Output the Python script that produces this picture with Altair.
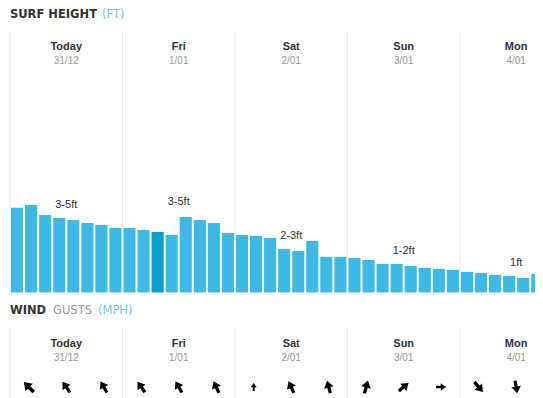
import altair as alt
import pandas as pd

days = ["Today", "Fri", "Sat", "Sun", "Mon"]
dates = ["31/12", "1/01", "2/01", "3/01", "4/01"]
ranges = ["3-5ft", "3-5ft", "2-3ft", "1-2ft", "1ft"]
surf_ft = [
    4.24, 4.38, 3.88, 3.73, 3.63, 3.48, 3.38, 3.23,
    3.23, 3.13, 3.03, 2.88, 3.78, 3.63, 3.48, 2.98,
    2.88, 2.83, 2.73, 2.18, 2.08, 2.58, 1.78, 1.78,
    1.73, 1.63, 1.43, 1.43, 1.33, 1.23, 1.18, 1.13,
    1.03, 0.98, 0.88, 0.83, 0.73, 0.93,
]
highlight_bar = 10
wind_dir = [315, 325, 330, 325, 330, 335, 0, 335, 345, 15, 50, 90, 140, 170]
wind_size = [196, 169, 165, 165, 165, 165, 64, 165, 165, 175, 160, 100, 175, 165]

BAR_BLUE = "#3eb9e5"
BAR_DARK = "#0e9ccd"
LINE = "#e8e8e8"
DARK = "#333333"
GREY = "#999999"
LIGHT_BLUE = "#7cc6e8"

bars = pd.DataFrame({
    "i": list(range(len(surf_ft))),
    "ft": surf_ft,
})
bars["x0"] = bars["i"] + 0.07
bars["x1"] = bars["i"] + 0.93
bars["hl"] = bars["i"] == highlight_bar

day_df = pd.DataFrame({
    "day": days,
    "date": dates,
    "range": ranges,
    "center": [d * 8 + 4 for d in range(len(days))],
    "start": [d * 8 for d in range(len(days))],
    "ft": [surf_ft[d * 8 + 4] for d in range(len(days))],
})

arrow_pos = []
for d in range(len(days)):
    for off in (4 / 3, 4, 20 / 3):
        arrow_pos.append(d * 8 + off)
wind_df = pd.DataFrame({
    "pos": arrow_pos[: len(wind_dir)],
    "dir": wind_dir,
    "size": wind_size,
})

W, H = 527, 390
PITCH = 14.06
xs = alt.Scale(domain=[-2 / PITCH, (W - 2) / PITCH], nice=False, zero=False)
ys = alt.Scale(domain=[0, 5], range=[284.5, 184.5], nice=False)
X = lambda f: alt.X(f"{f}:Q", scale=xs, axis=None)

base_days = alt.Chart(day_df)

sep_top = base_days.mark_rule(color=LINE, strokeWidth=1).encode(
    x=X("start"), y=alt.value(24), y2=alt.value(284.5)
)
sep_bot = base_days.mark_rule(color=LINE, strokeWidth=1).encode(
    x=X("start"), y=alt.value(320), y2=alt.value(H)
)

bar_layer = alt.Chart(bars).mark_bar(clip=True).encode(
    x=X("x0"),
    x2="x1:Q",
    y=alt.Y("ft:Q", scale=ys, axis=None),
    y2=alt.datum(0),
    color=alt.condition("datum.hl", alt.value(BAR_DARK), alt.value(BAR_BLUE)),
)

labels = base_days.mark_text(
    font="Liberation Sans", fontSize=11, color=DARK, dy=-14.5, baseline="middle"
).encode(x=X("center"), y=alt.Y("ft:Q", scale=ys, axis=None), text="range:N")

def headers(y_name, y_date):
    n = base_days.mark_text(
        font="Liberation Sans", fontSize=11, fontWeight="bold", color=DARK, baseline="middle"
    ).encode(x=X("center"), y=alt.value(y_name), text="day:N")
    d = base_days.mark_text(
        font="Liberation Sans", fontSize=10, color=GREY, baseline="middle"
    ).encode(x=X("center"), y=alt.value(y_date), text="date:N")
    return n + d

arrow_path = "M0,-1 L0.75,0.08 L0.25,0.08 L0.25,1 L-0.25,1 L-0.25,0.08 L-0.75,0.08 Z"
arrows = alt.Chart(wind_df).mark_point(
    shape=arrow_path, filled=True, color="#000000", opacity=1, strokeWidth=0
).encode(
    x=X("pos"),
    y=alt.value(379),
    angle=alt.Angle("dir:Q", scale=None),
    size=alt.Size("size:Q", scale=None, legend=None),
)

def title_txt(text, x, y, color, weight="normal"):
    return alt.Chart(pd.DataFrame({"t": [text]})).mark_text(
        font="DejaVu Sans", fontSize=11.5, fontWeight=weight, color=color,
        align="left", baseline="middle",
    ).encode(x=alt.value(x), y=alt.value(y), text="t:N")

titles = (
    title_txt("SURF HEIGHT", 2, 6.8, DARK, "bold")
    + title_txt("(FT)", 94, 6.8, LIGHT_BLUE)
    + title_txt("WIND", 2, 302.7, DARK, "bold")
    + title_txt("GUSTS", 45, 302.7, GREY)
    + title_txt("(MPH)", 90, 302.7, LIGHT_BLUE)
)

chart = alt.layer(
    sep_top, sep_bot, bar_layer, labels,
    headers(38.5, 53), headers(336.3, 349.7),
    arrows, titles,
).properties(
    width=W, height=H, padding=0, autosize=alt.AutoSizeParams(type="none")
).configure_view(strokeWidth=0)

chart.save("out.html", embed_options={"renderer": "svg", "actions": False})
